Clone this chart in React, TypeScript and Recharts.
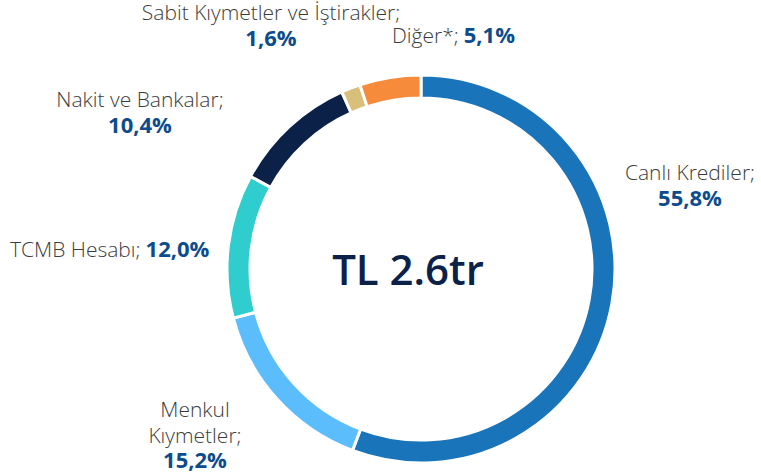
import React from 'react'
import { PieChart, Pie, Cell } from 'recharts'

const categories = ['Canlı Krediler', 'Menkul Kıymetler', 'TCMB Hesabı', 'Nakit ve Bankalar', 'Sabit Kıymetler ve İştirakler', 'Diğer*']
const shares = [55.8, 15.2, 12.0, 10.4, 1.6, 5.1]
const shareLabels = ['55,8%', '15,2%', '12,0%', '10,4%', '1,6%', '5,1%']
const colors = ['#1a74ba', '#5cbdfd', '#2fcdcd', '#0b2148', '#d8bf7a', '#f68b3b']
const centerText = 'TL 2.6tr'

const data = categories.map((name, i) => ({ name, value: shares[i] }))

const FONT = '"Open Sans", Lato, sans-serif'
const NAME_COLOR = '#3c3c3c'
const PCT_COLOR = '#0d4c8c'

// where each label block sits (baseline of first line)
type LabelLayout = { x: number; y: number; anchor: 'start' | 'middle' | 'end'; lines: string[]; inline?: boolean }
const labelLayout: LabelLayout[] = [
  { x: 690, y: 180, anchor: 'middle', lines: ['Canlı Krediler;'] },
  { x: 195, y: 417, anchor: 'middle', lines: ['Menkul', 'Kıymetler;'] },
  { x: 10, y: 257, anchor: 'start', lines: ['TCMB Hesabı;'], inline: true },
  { x: 140, y: 107, anchor: 'middle', lines: ['Nakit ve Bankalar;'] },
  { x: 271, y: 20, anchor: 'middle', lines: ['Sabit Kıymetler ve İştirakler;'] },
  { x: 392, y: 43, anchor: 'start', lines: ['Diğer*;'], inline: true },
]

const renderLabel = (props: any) => {
  const i = props.index
  const l = labelLayout[i]
  if (!l) return null
  const lh = 25.5
  return (
    <g key={`lbl-${i}`}>
      {i === 0 && (
        <text x={props.cx - 13} y={props.cy + 16} textAnchor="middle" fontFamily={FONT} fontSize={42} fontWeight={600} fill="#0b2148">
          {centerText}
        </text>
      )}
      <text x={l.x} y={l.y} textAnchor={l.anchor} fontFamily={FONT} fontSize={21}>
        {l.lines.map((t, j) => (
          <tspan key={j} x={l.x} dy={j === 0 ? 0 : lh} fill={NAME_COLOR} fontWeight={300}>
            {t}
          </tspan>
        ))}
        {l.inline ? (
          <tspan fill={PCT_COLOR} fontWeight={700} fontSize={22} dx={5}>
            {shareLabels[i]}
          </tspan>
        ) : (
          <tspan x={l.x} dy={lh} fill={PCT_COLOR} fontWeight={700} fontSize={22}>
            {shareLabels[i]}
          </tspan>
        )}
      </text>
    </g>
  )
}

export default function App() {
  return (
    <div style={{ position: 'absolute', left: 0, top: 0, background: '#fff' }}>
      <PieChart width={761} height={473} margin={{ top: 0, right: 0, bottom: 0, left: 0 }}>
        <Pie
          data={data}
          dataKey="value"
          nameKey="name"
          cx={421}
          cy={269}
          outerRadius={194}
          innerRadius={171}
          startAngle={90}
          endAngle={-270}
          stroke="#ffffff"
          strokeWidth={3}
          label={renderLabel}
          labelLine={false}
          isAnimationActive={false}
        >
          {data.map((d, i) => (
            <Cell key={d.name} fill={colors[i]} />
          ))}
        </Pie>
      </PieChart>
    </div>
  )
}
